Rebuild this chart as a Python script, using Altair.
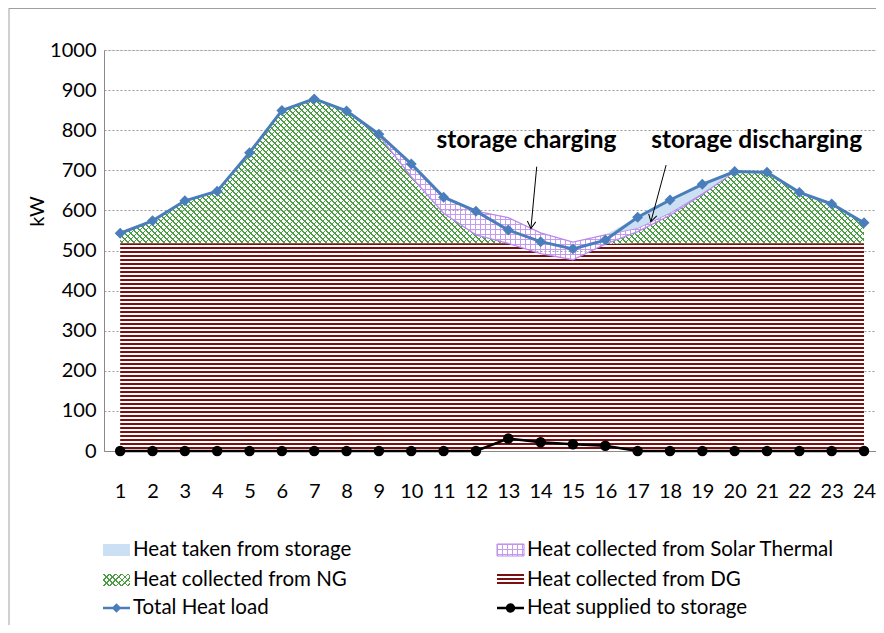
import math
import altair as alt
import pandas as pd

# ---------------- data ----------------
hours = [1, 2, 3, 4, 5, 6, 7, 8, 9, 10, 11, 12, 13, 14, 15, 16, 17, 18, 19, 20, 21, 22, 23, 24]
total_heat_load = [543, 574, 624, 648, 744, 849, 878, 848, 790, 716, 633, 598,
                   551, 522, 504, 526, 583, 626, 665, 697, 695, 645, 616, 569]
heat_from_dg = [518, 518, 518, 518, 518, 518, 518, 518, 518, 518, 518, 518,
                518, 492, 477, 516, 518, 518, 518, 518, 518, 518, 518, 518]
heat_from_ng = [25, 56, 106, 130, 226, 331, 360, 330, 269, 166, 75, 21,
                0, 0, 0, 0, 29, 70, 122, 179, 177, 127, 98, 51]
heat_from_solar = [0, 0, 0, 0, 0, 0, 0, 0, 3, 32, 40, 59,
                   64, 52, 44, 23, 9, 6, 3, 0, 0, 0, 0, 0]
heat_from_storage = [0, 0, 0, 0, 0, 0, 0, 0, 0, 0, 0, 0,
                     0, 0, 0, 0, 27, 32, 22, 0, 0, 0, 0, 0]
heat_to_storage = [0, 0, 0, 0, 0, 0, 0, 0, 0, 0, 0, 0,
                   31, 22, 17, 13, 0, 0, 0, 0, 0, 0, 0, 0]

y_ticks = [0, 100, 200, 300, 400, 500, 600, 700, 800, 900, 1000]
x_ticks = hours

legend_labels = ["Heat taken  from storage", "Heat collected from Solar Thermal",
                 "Heat collected from NG", "Heat collected from DG",
                 "Total Heat load", "Heat supplied to storage"]

annot_text = ["storage charging", "storage discharging"]
annot_x = [13.56, 20.68]
annot_y = [773, 773]
arrow_x = [13.88, 17.88]
arrow_y = [709, 713]
arrow_tip_x = [13.70, 17.41]
arrow_tip_y = [555, 572]
arrow_angle = [5.3, 15.1]

# ---------------- layout / style ----------------
FONT = "Lato"
W_PLOT, H_PLOT = 772, 401
X_DOMAIN = [0.5, 24.37]
Y_DOMAIN = [0, 1000]
PX_X = W_PLOT / (X_DOMAIN[1] - X_DOMAIN[0])
PX_Y = H_PLOT / (Y_DOMAIN[1] - Y_DOMAIN[0])

DG_RED = "#7A1010"
NG_GREEN = "#4C9E44"
SOLAR_LINE = "#C49BF0"
SOLAR_EDGE = "#B98BEB"
STORAGE_BLUE = "#CCE0F3"
LOAD_BLUE = "#4A7EBB"
CLEAR = "rgba(255,255,255,0)"

df = pd.DataFrame({
    "hour": hours, "load": total_heat_load, "dg": heat_from_dg, "ng": heat_from_ng,
    "solar": heat_from_solar, "storage": heat_from_storage, "supply": heat_to_storage,
})
df["dg_lo"] = 0
df["dg_hi"] = df["dg"]
df["ng_lo"] = df["dg_hi"]
df["ng_hi"] = df["ng_lo"] + df["ng"]
df["so_lo"] = df["ng_hi"]
df["so_hi"] = df["so_lo"] + df["solar"]
df["st_lo"] = df["so_hi"]
df["st_hi"] = df["st_lo"] + df["storage"]


def grad_from_intervals(intervals, on, off, x1, y1, x2, y2):
    stops = [{"color": off, "offset": 0.0}]
    last = 0.0
    for a, b in intervals:
        a = max(last, min(1.0, a))
        b = max(a, min(1.0, b))
        if b <= a:
            continue
        a, b = round(a, 6), round(b, 6)
        stops += [{"color": off, "offset": a}, {"color": on, "offset": a},
                  {"color": on, "offset": b}, {"color": off, "offset": b}]
        last = b
    stops.append({"color": off, "offset": 1.0})
    return {"gradient": "linear", "stops": stops, "x1": x1, "y1": y1, "x2": x2, "y2": y2}


def line_intervals(span, period, width):
    out = []
    k = 0
    while k * period < span:
        out.append(((k * period) / span, (k * period + width) / span))
        k += 1
    return out


def h_stripes(H, period, width, on, off=CLEAR):
    return grad_from_intervals(line_intervals(H, period, width), on, off, 0, 0, 0, 1)


def v_stripes(W, period, width, on, off=CLEAR):
    return grad_from_intervals(line_intervals(W, period, width), on, off, 0, 0, 1, 0)


def diag_pair(W, H, period, width, on):
    S = W + H
    s = S * W / (W * W + H * H)
    iv = line_intervals(S, period, width)
    g1 = grad_from_intervals(iv, on, CLEAR, 0, 0, s, s * H / W)
    g2 = grad_from_intervals(iv, on, CLEAR, 0, 1, s, 1 - s * H / W)
    return g1, g2


def bbox(lo, hi):
    W = (max(hours) - min(hours)) * PX_X
    H = (max(hi) - min(lo)) * PX_Y
    return W, H


W_dg, H_dg = bbox(df["dg_lo"], df["dg_hi"])
dg_fill = h_stripes(H_dg, 4, 2.2, DG_RED, "#FFFFFF")
W_ng, H_ng = bbox(df["ng_lo"], df["ng_hi"])
ng_fill_a, ng_fill_b = diag_pair(W_ng, H_ng, 6, 1.8, NG_GREEN)
W_so, H_so = bbox(df["so_lo"], df["so_hi"])
so_fill_v = v_stripes(W_so, 5, 1, SOLAR_LINE)
so_fill_h = h_stripes(H_so, 5, 1, SOLAR_LINE)

x_scale = alt.Scale(domain=X_DOMAIN, nice=False, zero=False)
y_scale = alt.Scale(domain=Y_DOMAIN, nice=False, zero=False)
x_axis = alt.Axis(values=x_ticks, format="d", grid=False, ticks=False, title=None,
                  labelPadding=30, labelFontSize=20, labelFont=FONT, labelColor="#000000",
                  domainColor="#8A8A8A", labelFlush=False)
y_axis = alt.Axis(values=y_ticks, format="d", grid=True, gridDash=[2, 2], gridColor="#9A9A9A",
                  ticks=False, labelPadding=8, labelFontSize=20, labelFont=FONT,
                  labelColor="#000000", domainColor="#8A8A8A",
                  title="kW", titleFont=FONT, titleFontSize=20, titleFontWeight="normal",
                  titleColor="#000000", titleX=-67, titleY=161, titleAngle=270,
                  titleAlign="center", titleBaseline="middle")


def X(field):
    return alt.X(field, type="quantitative", scale=x_scale, axis=x_axis)


def Y(field):
    return alt.Y(field, type="quantitative", scale=y_scale, axis=y_axis)


base = alt.Chart(df)

dg_area = base.mark_area(fill=dg_fill, opacity=1).encode(x=X("hour"), y=Y("dg_hi"), y2="dg_lo")
ng_a = base.mark_area(fill=ng_fill_a, opacity=1).encode(x=X("hour"), y=Y("ng_hi"), y2="ng_lo")
ng_b = base.mark_area(fill=ng_fill_b, opacity=1).encode(x=X("hour"), y=Y("ng_hi"), y2="ng_lo")
so_v = base.mark_area(fill=so_fill_v, opacity=1).encode(x=X("hour"), y=Y("so_hi"), y2="so_lo")
so_h = base.mark_area(fill=so_fill_h, opacity=1).encode(x=X("hour"), y=Y("so_hi"), y2="so_lo")
so_edge = base.mark_area(fill=CLEAR, stroke=SOLAR_EDGE, strokeWidth=1.3).encode(
    x=X("hour"), y=Y("so_hi"), y2="so_lo")
st_area = base.mark_area(fill=STORAGE_BLUE, opacity=1).encode(
    x=X("hour"), y=Y("st_hi"), y2="st_lo")

supply_line = base.mark_line(color="#000000", strokeWidth=2.5).encode(x=X("hour"), y=Y("supply"))
supply_pts = base.mark_point(shape="circle", filled=True, color="#000000", size=110,
                             opacity=1).encode(x=X("hour"), y=Y("supply"))
load_line = base.mark_line(color=LOAD_BLUE, strokeWidth=3).encode(x=X("hour"), y=Y("load"))
load_pts = base.mark_point(shape="diamond", filled=True, color=LOAD_BLUE, size=120,
                           opacity=1).encode(x=X("hour"), y=Y("load"))

ann_df = pd.DataFrame({"x": annot_x, "y": annot_y, "t": annot_text})
ann_text = alt.Chart(ann_df).mark_text(font=FONT, fontSize=24.5, fontWeight="bold",
                                       color="#000000", align="center", baseline="middle").encode(
    x=X("x"), y=Y("y"), text="t:N")
arr_df = pd.DataFrame({"x": arrow_x, "y": arrow_y, "x2": arrow_tip_x, "y2": arrow_tip_y,
                       "ang": arrow_angle})
arr_line = alt.Chart(arr_df).mark_rule(color="#000000", strokeWidth=1).encode(
    x=X("x"), y=Y("y"), x2="x2", y2="y2")
arr_head = alt.Chart(arr_df).mark_point(shape="M-0.6,-1L0,0L0.6,-1", filled=False,
                                        color="#000000", strokeWidth=1, size=196,
                                        opacity=1).encode(
    x=X("x2"), y=Y("y2"), angle=alt.Angle("ang:Q", scale=None))

# ---------------- chart frame and legend (pixel positions) ----------------
one = pd.DataFrame({"k": [0]})
frame_left = alt.Chart(one).mark_rule(color="#A0A0A0", strokeWidth=1).encode(
    x=alt.value(-95), y=alt.value(-42), y2=alt.value(575))
frame_top = alt.Chart(one).mark_rule(color="#A0A0A0", strokeWidth=1).encode(
    x=alt.value(-95), x2=alt.value(772), y=alt.value(-41.5))

COL_SYM = [-1, 393]
COL_TXT = [29, 423]
ROW_Y = [500, 530, 558]
SW, SH = 27, 12

leg_layers = []


def leg_rect(col, row, **kw):
    return alt.Chart(one).mark_rect(**kw).encode(
        x=alt.value(COL_SYM[col]), x2=alt.value(COL_SYM[col] + SW),
        y=alt.value(ROW_Y[row] - SH / 2), y2=alt.value(ROW_Y[row] + SH / 2))


leg_layers.append(leg_rect(0, 0, fill=STORAGE_BLUE))
leg_layers.append(leg_rect(1, 0, fill=v_stripes(SW, 5, 1, SOLAR_LINE)))
leg_layers.append(leg_rect(1, 0, fill=h_stripes(SH, 5, 1, SOLAR_LINE),
                           stroke=SOLAR_EDGE, strokeWidth=1))
lg_a, lg_b = diag_pair(SW, SH, 6, 1.8, NG_GREEN)
leg_layers.append(leg_rect(0, 1, fill=lg_a))
leg_layers.append(leg_rect(0, 1, fill=lg_b))
leg_layers.append(leg_rect(1, 1, fill=h_stripes(SH, 4, 2.2, DG_RED, "#FFFFFF")))
for col, colr, shp, sz in [(0, LOAD_BLUE, "diamond", 90), (1, "#000000", "circle", 90)]:
    leg_layers.append(alt.Chart(one).mark_rule(color=colr, strokeWidth=2.5).encode(
        x=alt.value(COL_SYM[col]), x2=alt.value(COL_SYM[col] + SW), y=alt.value(ROW_Y[2])))
    leg_layers.append(alt.Chart(one).mark_point(shape=shp, filled=True, color=colr, size=sz,
                                                opacity=1).encode(
        x=alt.value(COL_SYM[col] + SW / 2), y=alt.value(ROW_Y[2])))
for i, lab in enumerate(legend_labels):
    col, row = i % 2, i // 2
    leg_layers.append(alt.Chart(one).mark_text(text=lab, font=FONT, fontSize=20.5,
                                               color="#000000", align="left",
                                               baseline="middle").encode(
        x=alt.value(COL_TXT[col]), y=alt.value(ROW_Y[row])))

chart = alt.layer(
    dg_area, ng_a, ng_b, so_v, so_h, so_edge, st_area,
    supply_line, supply_pts, load_line, load_pts,
    arr_line, arr_head, ann_text,
    frame_left, frame_top, *leg_layers,
).properties(
    width=W_PLOT, height=H_PLOT,
    autosize=alt.AutoSizeParams(type="none"),
    padding={"left": 96, "top": 42, "right": 0, "bottom": 174},
).configure_view(stroke=None).configure(background="#FFFFFF", font=FONT)

chart.save("out.html", embed_options={"renderer": "svg", "actions": False})
